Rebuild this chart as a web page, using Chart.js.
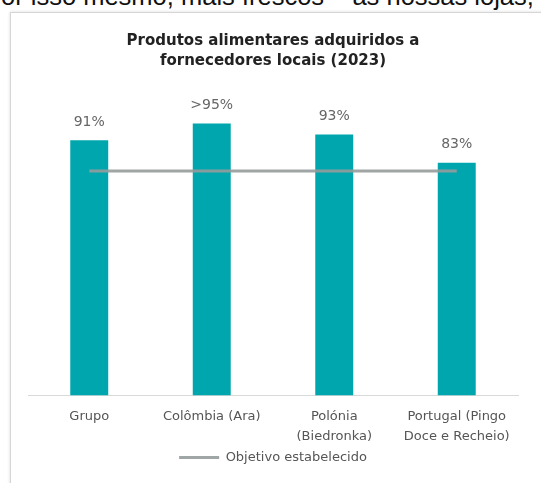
<!DOCTYPE html>
<html>
<head>
<meta charset="utf-8">
<script src="https://cdn.jsdelivr.net/npm/chart.js@4.4.1/dist/chart.umd.min.js"></script>
<style>
  html, body { margin: 0; padding: 0; background: #fff; }
  body { width: 541px; height: 483px; position: relative; overflow: hidden; }
  #toptext { position: absolute; left: -16px; top: -18px; font-family: "Liberation Sans", Arial, sans-serif; font-size: 25.5px; line-height: normal; color: #111; white-space: nowrap; }
  #frame { position: absolute; left: 10px; top: 12px; width: 560px; height: 500px; border: 1px solid #d6d6d6; box-shadow: 0 0 3px rgba(0,0,0,0.15); background: #fff; }
  #wrap { position: absolute; left: 0; top: 0; width: 541px; height: 483px; }
</style>
</head>
<body>
<div id="toptext">Por isso mesmo, mais frescos – às nossas lojas,</div>
<div id="frame"></div>
<div id="wrap"><canvas id="c" width="541" height="483"></canvas></div>
<script>
const categories = [["Grupo"], ["Colômbia (Ara)"], ["Polónia", "(Biedronka)"], ["Portugal (Pingo", "Doce e Recheio)"]];
const localShare = [91, 97, 93, 83];
const valueLabels = ["91%", ">95%", "93%", "83%"];
const targetLabel = "Objetivo estabelecido";
const targetValues = [80, 80, 80, 80];
const titleLines = ["Produtos alimentares adquiridos a", "fornecedores locais (2023)"];

const FONT = "'DejaVu Sans', sans-serif";

const valueLabelPlugin = {
  id: 'valueLabels',
  afterDatasetsDraw(chart) {
    const meta = chart.getDatasetMeta(0);
    const ctx = chart.ctx;
    ctx.save();
    ctx.font = "14px " + FONT;
    ctx.fillStyle = "#666";
    ctx.textAlign = "center";
    ctx.textBaseline = "middle";
    meta.data.forEach((bar, i) => {
      ctx.fillText(valueLabels[i], bar.x, bar.y - 18);
    });
    ctx.restore();
  }
};

new Chart(document.getElementById('c'), {
  data: {
    labels: categories,
    datasets: [
      {
        type: 'bar',
        label: 'Produtos locais',
        data: localShare,
        backgroundColor: '#00a6ad',
        barPercentage: 0.31,
        categoryPercentage: 1.0,
        order: 1
      },
      {
        type: 'line',
        label: targetLabel,
        data: targetValues,
        borderColor: 'rgba(150,155,155,0.9)',
        backgroundColor: 'rgba(150,155,155,0.9)',
        borderWidth: 3,
        pointRadius: 0,
        pointStyle: 'line',
        fill: false,
        order: 0
      }
    ]
  },
  options: {
    responsive: false,
    animation: false,
    layout: { padding: { left: 28, right: 23, top: 0, bottom: 9 } },
    scales: {
      x: {
        grid: { display: false, drawTicks: false },
        border: { display: true, color: '#d9d9d9', width: 1 },
        ticks: { color: '#555', font: { family: FONT, size: 13, lineHeight: 1.54 }, padding: 11, maxRotation: 0, autoSkip: false },
        afterFit: (scale) => { scale.height = 53.6; }
      },
      y: {
        display: false,
        min: 0,
        max: 100
      }
    },
    plugins: {
      title: {
        display: true,
        text: titleLines,
        color: '#222',
        font: { family: FONT, size: 15, weight: 'bold', lineHeight: 1.333 },
        padding: { top: 31, bottom: 44 }
      },
      legend: {
        display: true,
        position: 'bottom',
        labels: {
          filter: (item) => item.datasetIndex === 1,
          usePointStyle: true,
          pointStyleWidth: 40,
          color: '#555',
          font: { family: FONT, size: 13 },
          padding: 2
        }
      },
      tooltip: { enabled: false }
    }
  },
  plugins: [valueLabelPlugin]
});
</script>
</body>
</html>
